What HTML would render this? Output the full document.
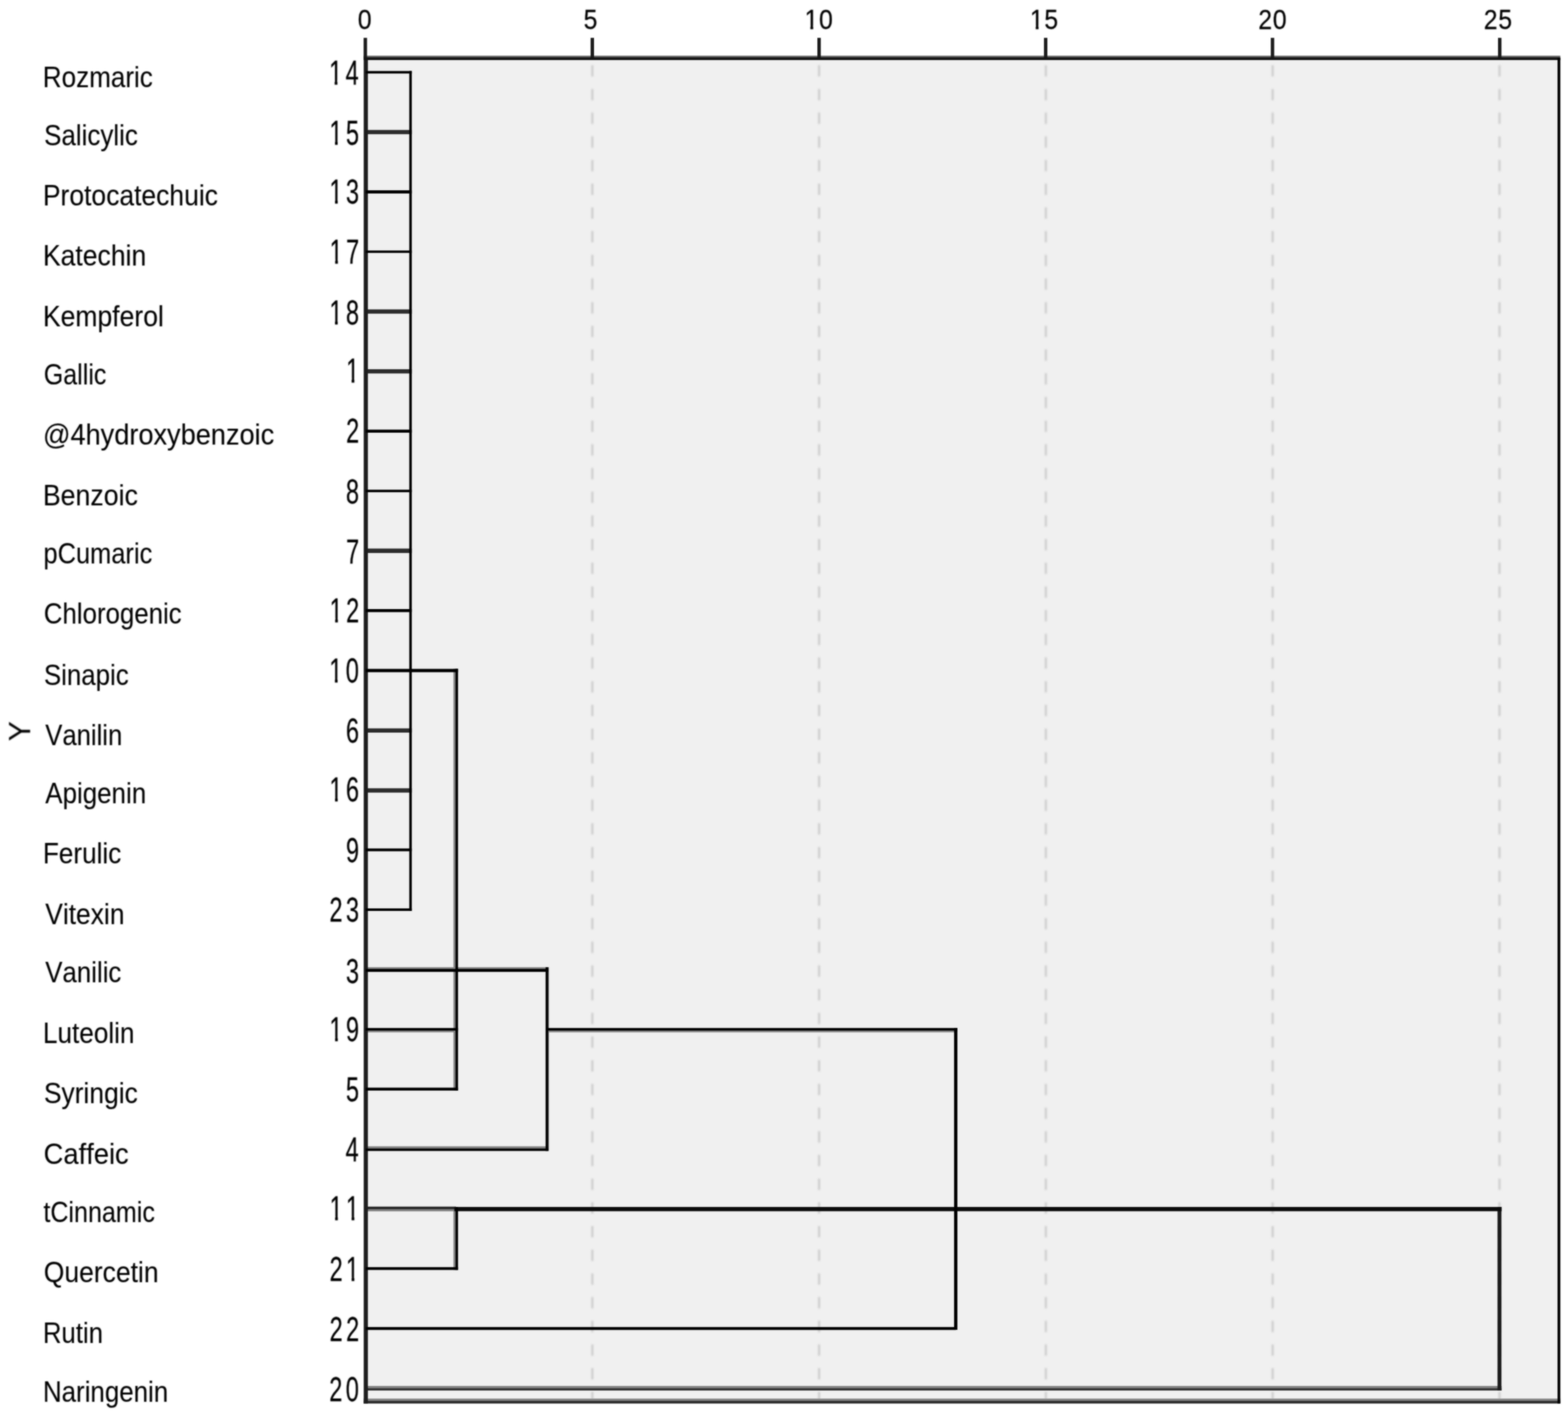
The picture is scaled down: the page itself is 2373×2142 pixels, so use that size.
<!DOCTYPE html>
<html lang="en"><head><meta charset="utf-8"><title>Dendrogram</title>
<style>
html,body{margin:0;padding:0;background:#fff;}
body{width:2373px;height:2142px;overflow:hidden;}
svg{display:block;}
</style></head><body>
<svg width="2373" height="2142" viewBox="0 0 2373 2142">
<defs><filter id="b" x="-2%" y="-2%" width="104%" height="104%" color-interpolation-filters="sRGB"><feGaussianBlur stdDeviation="1" result="g"/><feComposite in="g" in2="SourceGraphic" operator="arithmetic" k1="0" k2="0.62" k3="0.38" k4="0"/></filter><filter id="g" x="-2%" y="-2%" width="104%" height="104%" color-interpolation-filters="sRGB"><feGaussianBlur stdDeviation="1.4"/></filter><filter id="t" x="-2%" y="-2%" width="104%" height="104%" color-interpolation-filters="sRGB"><feGaussianBlur stdDeviation="1" result="g"/><feComposite in="g" in2="SourceGraphic" operator="arithmetic" k1="0" k2="0.8" k3="0.2" k4="0"/></filter></defs>
<rect width="2373" height="2142" fill="#fff"/>
<g filter="url(#b)">
<rect x="553.6" y="87.8" width="1805.7" height="2033.2" fill="#f0f0f0"/>
</g><g filter="url(#g)">
<line x1="896.4" y1="98.8" x2="896.4" y2="2118.0" stroke="#c8c8c8" stroke-width="2.8" stroke-dasharray="17 18.86"/>
<line x1="1239.6" y1="98.8" x2="1239.6" y2="2118.0" stroke="#c8c8c8" stroke-width="2.8" stroke-dasharray="17 18.86"/>
<line x1="1582.8" y1="98.8" x2="1582.8" y2="2118.0" stroke="#c8c8c8" stroke-width="2.8" stroke-dasharray="17 18.86"/>
<line x1="1926.0" y1="98.8" x2="1926.0" y2="2118.0" stroke="#c8c8c8" stroke-width="2.8" stroke-dasharray="17 18.86"/>
<line x1="2269.3" y1="98.8" x2="2269.3" y2="2118.0" stroke="#c8c8c8" stroke-width="2.8" stroke-dasharray="17 18.86"/>
</g><g filter="url(#b)">
<rect x="829.50" y="1464.17" width="1.50" height="278.12" fill="#909090"/>
<rect x="553.60" y="2098.00" width="1718.90" height="3.70" fill="#848484"/>
<rect x="550.40" y="2117.20" width="1811.00" height="3.80" fill="#848484"/>
<rect x="686.30" y="1012.35" width="3.30" height="638.52" fill="#808080"/>
<rect x="553.60" y="1464.20" width="276.10" height="2.90" fill="#808080"/>
<rect x="553.60" y="1559.70" width="139.60" height="2.90" fill="#808080"/>
<rect x="826.00" y="1559.70" width="623.00" height="2.90" fill="#808080"/>
<rect x="553.60" y="1735.30" width="276.10" height="3.60" fill="#808080"/>
<rect x="553.60" y="1830.00" width="136.40" height="3.60" fill="#808080"/>
<rect x="686.30" y="1827.10" width="3.30" height="95.30" fill="#808080"/>
<rect x="550.40" y="84.30" width="1811.00" height="2.70" fill="#6a6a6a"/>
<rect x="553.60" y="2101.40" width="1718.90" height="3.50" fill="#303030"/>
<rect x="553.60" y="196.75" width="69.60" height="6.40" fill="#2c2c2c"/>
<rect x="553.60" y="468.38" width="69.60" height="6.40" fill="#2c2c2c"/>
<rect x="553.60" y="558.92" width="69.60" height="6.40" fill="#2c2c2c"/>
<rect x="553.60" y="830.41" width="69.60" height="6.70" fill="#2c2c2c"/>
<rect x="553.60" y="1102.60" width="69.60" height="6.40" fill="#2c2c2c"/>
<rect x="553.60" y="1193.29" width="69.60" height="6.50" fill="#2c2c2c"/>
<rect x="550.40" y="2120.70" width="1811.00" height="3.90" fill="#2a2a2a"/>
<rect x="553.60" y="1826.60" width="136.40" height="3.70" fill="#222"/>
<rect x="550.45" y="87.80" width="6.30" height="2036.80" fill="#1e1e1e"/>
<rect x="2266.35" y="1827.10" width="5.90" height="277.80" fill="#1c1c1c"/>
<rect x="550.30" y="57.30" width="5.20" height="30.50" fill="#1c1c1c"/>
<rect x="893.80" y="57.30" width="5.20" height="30.50" fill="#1c1c1c"/>
<rect x="1237.00" y="57.30" width="5.20" height="30.50" fill="#1c1c1c"/>
<rect x="1579.90" y="57.30" width="5.20" height="30.50" fill="#1c1c1c"/>
<rect x="1923.20" y="57.30" width="5.20" height="30.50" fill="#1c1c1c"/>
<rect x="2267.10" y="57.30" width="5.20" height="30.50" fill="#1c1c1c"/>
<rect x="550.40" y="86.70" width="1811.00" height="4.20" fill="#141414"/>
<rect x="687.50" y="1827.10" width="1585.00" height="6.40" fill="#0a0a0a"/>
<rect x="553.60" y="107.50" width="69.60" height="3.80" fill="#000"/>
<rect x="553.60" y="288.09" width="69.60" height="4.80" fill="#000"/>
<rect x="553.60" y="379.23" width="69.60" height="3.60" fill="#000"/>
<rect x="553.60" y="650.37" width="69.60" height="4.60" fill="#000"/>
<rect x="553.60" y="741.32" width="69.60" height="3.80" fill="#000"/>
<rect x="553.60" y="922.00" width="69.60" height="4.60" fill="#000"/>
<rect x="553.60" y="1012.55" width="69.60" height="5.00" fill="#000"/>
<rect x="553.60" y="1284.39" width="69.60" height="4.20" fill="#000"/>
<rect x="553.60" y="1375.13" width="69.60" height="3.80" fill="#000"/>
<rect x="619.40" y="107.50" width="3.80" height="1271.43" fill="#000"/>
<rect x="621.30" y="1012.55" width="71.90" height="5.00" fill="#000"/>
<rect x="689.30" y="1012.35" width="3.90" height="638.52" fill="#000"/>
<rect x="553.60" y="1466.80" width="276.10" height="4.40" fill="#000"/>
<rect x="553.60" y="1556.20" width="139.60" height="3.80" fill="#000"/>
<rect x="826.00" y="1556.20" width="623.00" height="3.80" fill="#000"/>
<rect x="553.60" y="1646.47" width="139.60" height="4.40" fill="#000"/>
<rect x="553.60" y="1738.60" width="276.10" height="3.70" fill="#000"/>
<rect x="825.70" y="1464.17" width="4.10" height="278.12" fill="#000"/>
<rect x="1443.90" y="1556.20" width="5.00" height="456.85" fill="#000"/>
<rect x="553.60" y="1918.20" width="139.60" height="4.20" fill="#000"/>
<rect x="689.30" y="1827.10" width="3.90" height="95.30" fill="#000"/>
<rect x="553.60" y="2008.85" width="892.80" height="4.40" fill="#000"/>
<rect x="2357.20" y="87.80" width="4.20" height="2036.80" fill="#000"/>
</g>
<g filter="url(#t)">
<text transform="translate(64.87,132.20) scale(0.8750,1)" font-size="45.06" font-family="Liberation Sans, Arial, sans-serif" fill="#000" stroke="#000" stroke-width="0.12" style="font-kerning:none">Rozmaric</text>
<clipPath id="c1" clipPathUnits="userSpaceOnUse"><path clip-rule="evenodd" d="M438.0 62.5h161.1v95.2h-161.1zM497.96 121.25h8.56v9.40h-8.56zM510.57 121.25h7.31v9.40h-7.31z"/></clipPath>
<g clip-path="url(#c1)"><text transform="translate(497.96,127.65) scale(0.7000,1)" font-size="51.16" font-family="Liberation Sans, Arial, sans-serif" fill="#000" stroke="#000" stroke-width="0.3" letter-spacing="7.21" style="font-kerning:none">14</text></g>
<text transform="translate(66.82,219.50) scale(0.8714,1)" font-size="45.06" font-family="Liberation Sans, Arial, sans-serif" fill="#000" stroke="#000" stroke-width="0.12" style="font-kerning:none">Salicylic</text>
<clipPath id="c2" clipPathUnits="userSpaceOnUse"><path clip-rule="evenodd" d="M438.4 153.9h160.7v95.2h-160.7zM498.42 212.75h8.56v9.40h-8.56zM511.02 212.75h7.31v9.40h-7.31z"/></clipPath>
<g clip-path="url(#c2)"><text transform="translate(498.42,219.15) scale(0.7000,1)" font-size="51.16" font-family="Liberation Sans, Arial, sans-serif" fill="#000" stroke="#000" stroke-width="0.3" letter-spacing="7.21" style="font-kerning:none">15</text></g>
<text transform="translate(64.91,310.80) scale(0.8889,1)" font-size="45.06" font-family="Liberation Sans, Arial, sans-serif" fill="#000" stroke="#000" stroke-width="0.12" style="font-kerning:none">Protocatechuic</text>
<clipPath id="c3" clipPathUnits="userSpaceOnUse"><path clip-rule="evenodd" d="M438.5 243.0h160.6v95.2h-160.6zM498.49 301.75h8.56v9.40h-8.56zM511.09 301.75h7.31v9.40h-7.31z"/></clipPath>
<g clip-path="url(#c3)"><text transform="translate(498.49,308.15) scale(0.7000,1)" font-size="51.16" font-family="Liberation Sans, Arial, sans-serif" fill="#000" stroke="#000" stroke-width="0.3" letter-spacing="7.21" style="font-kerning:none">13</text></g>
<text transform="translate(64.90,402.00) scale(0.8926,1)" font-size="45.06" font-family="Liberation Sans, Arial, sans-serif" fill="#000" stroke="#000" stroke-width="0.12" style="font-kerning:none">Katechin</text>
<clipPath id="c4" clipPathUnits="userSpaceOnUse"><path clip-rule="evenodd" d="M438.7 333.8h160.4v95.2h-160.4zM498.72 392.55h8.56v9.40h-8.56zM511.32 392.55h7.31v9.40h-7.31z"/></clipPath>
<g clip-path="url(#c4)"><text transform="translate(498.72,398.95) scale(0.7000,1)" font-size="51.16" font-family="Liberation Sans, Arial, sans-serif" fill="#000" stroke="#000" stroke-width="0.3" letter-spacing="7.21" style="font-kerning:none">17</text></g>
<text transform="translate(64.90,494.20) scale(0.8915,1)" font-size="45.06" font-family="Liberation Sans, Arial, sans-serif" fill="#000" stroke="#000" stroke-width="0.12" style="font-kerning:none">Kempferol</text>
<clipPath id="c5" clipPathUnits="userSpaceOnUse"><path clip-rule="evenodd" d="M438.5 425.9h160.6v95.2h-160.6zM498.47 484.70h8.56v9.40h-8.56zM511.08 484.70h7.31v9.40h-7.31z"/></clipPath>
<g clip-path="url(#c5)"><text transform="translate(498.47,491.10) scale(0.7000,1)" font-size="51.16" font-family="Liberation Sans, Arial, sans-serif" fill="#000" stroke="#000" stroke-width="0.3" letter-spacing="7.21" style="font-kerning:none">18</text></g>
<text transform="translate(66.30,581.50) scale(0.8406,1)" font-size="45.06" font-family="Liberation Sans, Arial, sans-serif" fill="#000" stroke="#000" stroke-width="0.12" style="font-kerning:none">Gallic</text>
<clipPath id="c6" clipPathUnits="userSpaceOnUse"><path clip-rule="evenodd" d="M463.6 513.3h135.4v95.2h-135.4zM523.63 572.10h8.56v9.40h-8.56zM536.24 572.10h7.31v9.40h-7.31z"/></clipPath>
<g clip-path="url(#c6)"><text transform="translate(523.63,578.50) scale(0.7000,1)" font-size="51.16" font-family="Liberation Sans, Arial, sans-serif" fill="#000" stroke="#000" stroke-width="0.3" letter-spacing="7.21" style="font-kerning:none">1</text></g>
<text transform="translate(64.97,672.70) scale(0.9121,1)" font-size="45.06" font-family="Liberation Sans, Arial, sans-serif" fill="#000" stroke="#000" stroke-width="0.12" style="font-kerning:none">@4hydroxybenzoic</text>
<text transform="translate(523.68,670.35) scale(0.7000,1)" font-size="51.16" font-family="Liberation Sans, Arial, sans-serif" fill="#000" stroke="#000" stroke-width="0.3" letter-spacing="7.21" style="font-kerning:none">2</text>
<text transform="translate(64.88,765.00) scale(0.8970,1)" font-size="45.06" font-family="Liberation Sans, Arial, sans-serif" fill="#000" stroke="#000" stroke-width="0.12" style="font-kerning:none">Benzoic</text>
<text transform="translate(523.44,761.85) scale(0.7000,1)" font-size="51.16" font-family="Liberation Sans, Arial, sans-serif" fill="#000" stroke="#000" stroke-width="0.3" letter-spacing="7.21" style="font-kerning:none">8</text>
<text transform="translate(65.72,852.80) scale(0.8548,1)" font-size="45.06" font-family="Liberation Sans, Arial, sans-serif" fill="#000" stroke="#000" stroke-width="0.12" style="font-kerning:none">pCumaric</text>
<text transform="translate(523.68,853.30) scale(0.7000,1)" font-size="51.16" font-family="Liberation Sans, Arial, sans-serif" fill="#000" stroke="#000" stroke-width="0.3" letter-spacing="7.21" style="font-kerning:none">7</text>
<text transform="translate(66.21,944.40) scale(0.8680,1)" font-size="45.06" font-family="Liberation Sans, Arial, sans-serif" fill="#000" stroke="#000" stroke-width="0.12" style="font-kerning:none">Chlorogenic</text>
<clipPath id="c7" clipPathUnits="userSpaceOnUse"><path clip-rule="evenodd" d="M438.7 876.5h160.4v95.2h-160.4zM498.72 935.30h8.56v9.40h-8.56zM511.32 935.30h7.31v9.40h-7.31z"/></clipPath>
<g clip-path="url(#c7)"><text transform="translate(498.72,941.70) scale(0.7000,1)" font-size="51.16" font-family="Liberation Sans, Arial, sans-serif" fill="#000" stroke="#000" stroke-width="0.3" letter-spacing="7.21" style="font-kerning:none">12</text></g>
<text transform="translate(66.42,1036.70) scale(0.8682,1)" font-size="45.06" font-family="Liberation Sans, Arial, sans-serif" fill="#000" stroke="#000" stroke-width="0.12" style="font-kerning:none">Sinapic</text>
<clipPath id="c8" clipPathUnits="userSpaceOnUse"><path clip-rule="evenodd" d="M438.3 967.8h160.8v95.2h-160.8zM498.31 1026.60h8.56v9.40h-8.56zM510.92 1026.60h7.31v9.40h-7.31z"/></clipPath>
<g clip-path="url(#c8)"><text transform="translate(498.31,1033.00) scale(0.7000,1)" font-size="51.16" font-family="Liberation Sans, Arial, sans-serif" fill="#000" stroke="#000" stroke-width="0.3" letter-spacing="7.21" style="font-kerning:none">10</text></g>
<text transform="translate(68.53,1128.00) scale(0.8620,1)" font-size="45.06" font-family="Liberation Sans, Arial, sans-serif" fill="#000" stroke="#000" stroke-width="0.12" style="font-kerning:none">Vanilin</text>
<text transform="translate(523.46,1124.45) scale(0.7000,1)" font-size="51.16" font-family="Liberation Sans, Arial, sans-serif" fill="#000" stroke="#000" stroke-width="0.3" letter-spacing="7.21" style="font-kerning:none">6</text>
<text transform="translate(68.62,1216.10) scale(0.8703,1)" font-size="45.06" font-family="Liberation Sans, Arial, sans-serif" fill="#000" stroke="#000" stroke-width="0.12" style="font-kerning:none">Apigenin</text>
<clipPath id="c9" clipPathUnits="userSpaceOnUse"><path clip-rule="evenodd" d="M438.5 1147.9h160.6v95.2h-160.6zM498.49 1206.70h8.56v9.40h-8.56zM511.09 1206.70h7.31v9.40h-7.31z"/></clipPath>
<g clip-path="url(#c9)"><text transform="translate(498.49,1213.10) scale(0.7000,1)" font-size="51.16" font-family="Liberation Sans, Arial, sans-serif" fill="#000" stroke="#000" stroke-width="0.3" letter-spacing="7.21" style="font-kerning:none">16</text></g>
<text transform="translate(64.96,1307.40) scale(0.8779,1)" font-size="45.06" font-family="Liberation Sans, Arial, sans-serif" fill="#000" stroke="#000" stroke-width="0.12" style="font-kerning:none">Ferulic</text>
<text transform="translate(523.58,1304.50) scale(0.7000,1)" font-size="51.16" font-family="Liberation Sans, Arial, sans-serif" fill="#000" stroke="#000" stroke-width="0.3" letter-spacing="7.21" style="font-kerning:none">9</text>
<text transform="translate(68.52,1398.70) scale(0.8863,1)" font-size="45.06" font-family="Liberation Sans, Arial, sans-serif" fill="#000" stroke="#000" stroke-width="0.12" style="font-kerning:none">Vitexin</text>
<text transform="translate(498.49,1395.40) scale(0.7000,1)" font-size="51.16" font-family="Liberation Sans, Arial, sans-serif" fill="#000" stroke="#000" stroke-width="0.3" letter-spacing="7.21" style="font-kerning:none">23</text>
<text transform="translate(68.53,1487.00) scale(0.8672,1)" font-size="45.06" font-family="Liberation Sans, Arial, sans-serif" fill="#000" stroke="#000" stroke-width="0.12" style="font-kerning:none">Vanilic</text>
<text transform="translate(523.46,1487.50) scale(0.7000,1)" font-size="51.16" font-family="Liberation Sans, Arial, sans-serif" fill="#000" stroke="#000" stroke-width="0.3" letter-spacing="7.21" style="font-kerning:none">3</text>
<text transform="translate(64.96,1579.10) scale(0.8776,1)" font-size="45.06" font-family="Liberation Sans, Arial, sans-serif" fill="#000" stroke="#000" stroke-width="0.12" style="font-kerning:none">Luteolin</text>
<clipPath id="c10" clipPathUnits="userSpaceOnUse"><path clip-rule="evenodd" d="M438.6 1510.7h160.5v95.2h-160.5zM498.61 1569.50h8.56v9.40h-8.56zM511.22 1569.50h7.31v9.40h-7.31z"/></clipPath>
<g clip-path="url(#c10)"><text transform="translate(498.61,1575.90) scale(0.7000,1)" font-size="51.16" font-family="Liberation Sans, Arial, sans-serif" fill="#000" stroke="#000" stroke-width="0.3" letter-spacing="7.21" style="font-kerning:none">19</text></g>
<text transform="translate(66.38,1670.40) scale(0.8878,1)" font-size="45.06" font-family="Liberation Sans, Arial, sans-serif" fill="#000" stroke="#000" stroke-width="0.12" style="font-kerning:none">Syringic</text>
<text transform="translate(523.39,1666.80) scale(0.7000,1)" font-size="51.16" font-family="Liberation Sans, Arial, sans-serif" fill="#000" stroke="#000" stroke-width="0.3" letter-spacing="7.21" style="font-kerning:none">5</text>
<text transform="translate(66.10,1761.60) scale(0.9177,1)" font-size="45.06" font-family="Liberation Sans, Arial, sans-serif" fill="#000" stroke="#000" stroke-width="0.12" style="font-kerning:none">Caffeic</text>
<text transform="translate(522.93,1758.20) scale(0.7000,1)" font-size="51.16" font-family="Liberation Sans, Arial, sans-serif" fill="#000" stroke="#000" stroke-width="0.3" letter-spacing="7.21" style="font-kerning:none">4</text>
<text transform="translate(65.63,1850.00) scale(0.8425,1)" font-size="45.06" font-family="Liberation Sans, Arial, sans-serif" fill="#000" stroke="#000" stroke-width="0.12" style="font-kerning:none">tCinnamic</text>
<clipPath id="c11" clipPathUnits="userSpaceOnUse"><path clip-rule="evenodd" d="M438.7 1782.1h160.4v95.2h-160.4zM498.66 1840.90h8.56v9.40h-8.56zM511.27 1840.90h7.31v9.40h-7.31zM523.63 1840.90h8.56v9.40h-8.56zM536.24 1840.90h7.31v9.40h-7.31z"/></clipPath>
<g clip-path="url(#c11)"><text transform="translate(498.66,1847.30) scale(0.7000,1)" font-size="51.16" font-family="Liberation Sans, Arial, sans-serif" fill="#000" stroke="#000" stroke-width="0.3" letter-spacing="7.21" style="font-kerning:none">11</text></g>
<text transform="translate(66.30,1941.30) scale(0.8892,1)" font-size="45.06" font-family="Liberation Sans, Arial, sans-serif" fill="#000" stroke="#000" stroke-width="0.12" style="font-kerning:none">Quercetin</text>
<clipPath id="c12" clipPathUnits="userSpaceOnUse"><path clip-rule="evenodd" d="M438.7 1874.0h161.3v95.2h-161.3zM523.63 1932.80h8.56v9.40h-8.56zM536.24 1932.80h7.31v9.40h-7.31z"/></clipPath>
<g clip-path="url(#c12)"><text transform="translate(498.66,1939.20) scale(0.7000,1)" font-size="51.16" font-family="Liberation Sans, Arial, sans-serif" fill="#000" stroke="#000" stroke-width="0.3" letter-spacing="7.21" style="font-kerning:none">21</text></g>
<text transform="translate(65.01,2032.60) scale(0.8634,1)" font-size="45.06" font-family="Liberation Sans, Arial, sans-serif" fill="#000" stroke="#000" stroke-width="0.12" style="font-kerning:none">Rutin</text>
<text transform="translate(498.72,2030.20) scale(0.7000,1)" font-size="51.16" font-family="Liberation Sans, Arial, sans-serif" fill="#000" stroke="#000" stroke-width="0.3" letter-spacing="7.21" style="font-kerning:none">22</text>
<text transform="translate(64.98,2121.90) scale(0.8703,1)" font-size="45.06" font-family="Liberation Sans, Arial, sans-serif" fill="#000" stroke="#000" stroke-width="0.12" style="font-kerning:none">Naringenin</text>
<text transform="translate(498.31,2121.45) scale(0.7000,1)" font-size="51.16" font-family="Liberation Sans, Arial, sans-serif" fill="#000" stroke="#000" stroke-width="0.3" letter-spacing="7.21" style="font-kerning:none">20</text>
<text transform="translate(541.46,44.20) scale(0.8670,1)" font-size="43.31" font-family="Liberation Sans, Arial, sans-serif" fill="#000" stroke="#000" stroke-width="0.3" letter-spacing="1.30" style="font-kerning:none">0</text>
<text transform="translate(883.19,44.20) scale(0.8670,1)" font-size="43.31" font-family="Liberation Sans, Arial, sans-serif" fill="#000" stroke="#000" stroke-width="0.3" letter-spacing="1.30" style="font-kerning:none">5</text>
<clipPath id="c13" clipPathUnits="userSpaceOnUse"><path clip-rule="evenodd" d="M1157.5 -15.6h158.6v89.8h-158.6zM1217.45 38.79h8.98v8.41h-8.98zM1230.67 38.79h7.66v8.41h-7.66z"/></clipPath>
<g clip-path="url(#c13)"><text transform="translate(1217.45,44.20) scale(0.8670,1)" font-size="43.31" font-family="Liberation Sans, Arial, sans-serif" fill="#000" stroke="#000" stroke-width="0.3" letter-spacing="1.30" style="font-kerning:none">10</text></g>
<clipPath id="c14" clipPathUnits="userSpaceOnUse"><path clip-rule="evenodd" d="M1498.5 -15.6h158.5v89.8h-158.5zM1558.51 38.79h8.98v8.41h-8.98zM1571.73 38.79h7.66v8.41h-7.66z"/></clipPath>
<g clip-path="url(#c14)"><text transform="translate(1558.51,44.20) scale(0.8670,1)" font-size="43.31" font-family="Liberation Sans, Arial, sans-serif" fill="#000" stroke="#000" stroke-width="0.3" letter-spacing="1.30" style="font-kerning:none">15</text></g>
<text transform="translate(1904.34,44.20) scale(0.8670,1)" font-size="43.31" font-family="Liberation Sans, Arial, sans-serif" fill="#000" stroke="#000" stroke-width="0.3" letter-spacing="1.30" style="font-kerning:none">20</text>
<text transform="translate(2245.60,44.20) scale(0.8670,1)" font-size="43.31" font-family="Liberation Sans, Arial, sans-serif" fill="#000" stroke="#000" stroke-width="0.3" letter-spacing="1.30" style="font-kerning:none">25</text>
<text transform="translate(45.6,1106.9) rotate(-90) scale(0.98,1)" font-size="46.5" text-anchor="middle" font-family="Liberation Sans, Arial, sans-serif" fill="#000">Y</text>
</g>
</svg>
</body></html>
